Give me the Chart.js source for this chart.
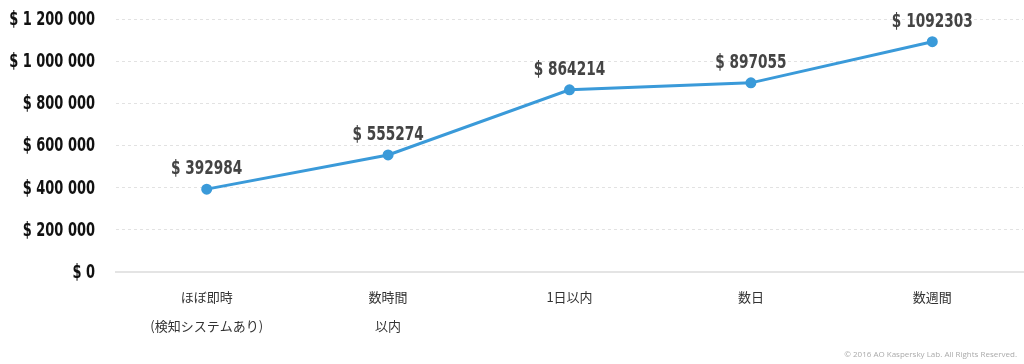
<!DOCTYPE html>
<html>
<head>
<meta charset="utf-8">
<script src="https://cdn.jsdelivr.net/npm/chart.js@4.4.0/dist/chart.umd.min.js"></script>
<style>
  html, body { margin: 0; padding: 0; background: #fff; }
  #wrap { width: 1024px; height: 364px; }
</style>
</head>
<body>
<div id="wrap"><canvas id="myChart"></canvas></div>
<script>
var categories = [
  ['ほぼ即時', '(検知システムあり)'],
  ['数時間', '以内'],
  '1日以内',
  '数日',
  '数週間'
];
var losses = [392984, 555274, 864214, 897055, 1092303];
var yTicks = [0, 200000, 400000, 600000, 800000, 1000000, 1200000];

var narrow = "'DejaVu Sans Condensed', 'DejaVu Sans', sans-serif";

function spaced(n) {
  return String(n).replace(/\B(?=(\d{3})+(?!\d))/g, ' ');
}

// squeezed bold text, the original uses a condensed face
function squeezed(ctx, text, x, y, sx) {
  ctx.save();
  ctx.translate(x, y);
  ctx.scale(sx, 1);
  ctx.fillText(text, 0, 0);
  ctx.restore();
}

var labelPlugin = {
  id: 'valueLabels',
  afterDraw: function(chart) {
    var ctx = chart.ctx;
    var meta = chart.getDatasetMeta(0);
    var yScale = chart.scales.y;
    ctx.save();

    // y tick labels
    ctx.font = 'bold 19px ' + narrow;
    ctx.fillStyle = '#111';
    ctx.textAlign = 'right';
    ctx.textBaseline = 'middle';
    yScale.ticks.forEach(function(t) {
      squeezed(ctx, '$ ' + spaced(t.value), 95, yScale.getPixelForValue(t.value) + 1, 0.76);
    });

    // values above points
    ctx.font = 'bold 20px ' + narrow;
    ctx.fillStyle = '#444';
    ctx.textAlign = 'center';
    ctx.textBaseline = 'bottom';
    meta.data.forEach(function(pt, i) {
      squeezed(ctx, '$ ' + losses[i], pt.x, pt.y - 10, 0.76);
    });

    ctx.font = '8px "Open Sans", sans-serif';
    ctx.fillStyle = '#aaa';
    ctx.textAlign = 'right';
    ctx.textBaseline = 'middle';
    ctx.fillText('© 2016 AO Kaspersky Lab. All Rights Reserved.', 1017, 355);
    ctx.restore();
  }
};

var chartdata = {
  labels: categories,
  datasets: [{
    label: 'loss',
    data: losses,
    borderColor: '#3a9ad9',
    backgroundColor: '#3a9ad9',
    borderWidth: 3,
    pointRadius: 4,
    pointHoverRadius: 4,
    tension: 0,
    fill: false
  }]
};

new Chart(document.getElementById('myChart'), {
  type: 'line',
  data: chartdata,
  plugins: [labelPlugin],
  options: {
    responsive: true,
    maintainAspectRatio: false,
    animation: false,
    layout: { autoPadding: false, padding: { top: 19, right: 1, left: 0, bottom: 0 } },
    plugins: { legend: { display: false }, tooltip: { enabled: false } },
    scales: {
      x: {
        offset: true,
        grid: { display: false },
        border: { display: true, color: '#e4e4e4', width: 2 },
        ticks: {
          color: '#333',
          font: { family: "'Noto Sans CJK JP', sans-serif", size: 13, lineHeight: 2.2 },
          padding: 3,
          maxRotation: 0,
          autoSkip: false
        },
        afterFit: function(scale) {
          scale.height = 92;
          scale.paddingLeft = 0;
          scale.paddingRight = 0;
        }
      },
      y: {
        min: 0,
        max: 1200000,
        afterBuildTicks: function(scale) {
          scale.ticks = yTicks.map(function(v) { return { value: v }; });
        },
        grid: {
          drawTicks: false,
          color: function(c) { return c.tick && c.tick.value === 0 ? 'rgba(0,0,0,0)' : '#e2e2e2'; },
          lineWidth: 1
        },
        border: { display: false, dash: [3, 3] },
        ticks: { display: false },
        afterFit: function(scale) {
          scale.width = 116;
          scale.paddingTop = 0;
          scale.paddingBottom = 0;
        }
      }
    }
  }
});
</script>
</body>
</html>
